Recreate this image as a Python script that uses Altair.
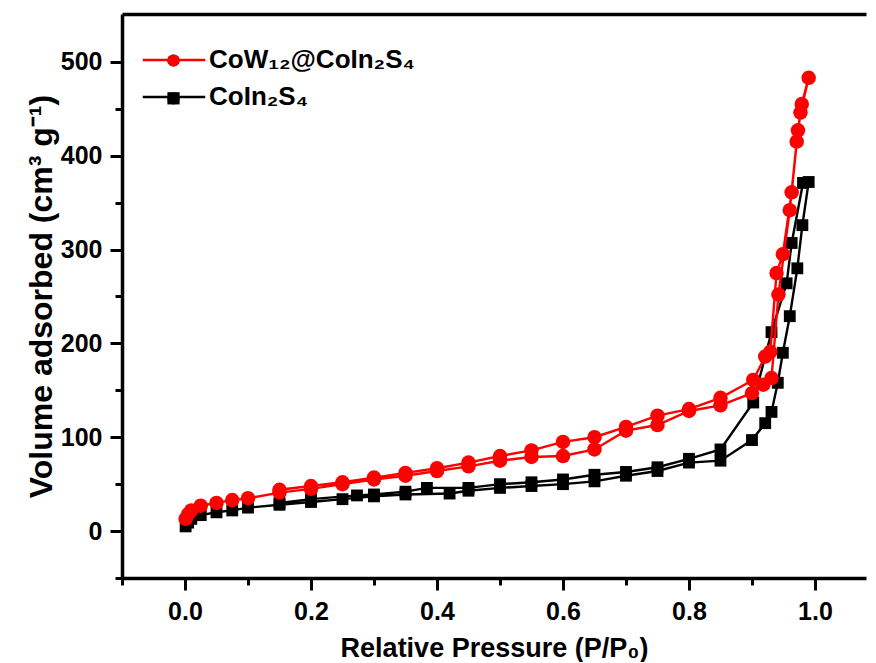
import altair as alt
import pandas as pd

RED = "CoW₁₂@CoIn₂S₄"
BLACK = "CoIn₂S₄"

# CoW12@CoIn2S4 : adsorption branch then desorption branch
red_ads_p = [0.001, 0.005, 0.01, 0.025, 0.05, 0.075, 0.1, 0.15, 0.2, 0.25, 0.3, 0.35, 0.4, 0.45,
             0.5, 0.55, 0.6, 0.65, 0.7, 0.75, 0.8, 0.85, 0.9, 0.918, 0.931, 0.942, 0.96, 0.971,
             0.977, 0.99]
red_ads_v = [13, 18, 22, 27, 30, 33, 35, 41, 45, 50, 55, 59, 64, 69,
             75, 79, 80, 87, 107, 113, 128, 134, 147, 156, 163, 252, 342, 415,
             446, 483]
red_des_p = [0.979, 0.973, 0.963, 0.949, 0.939, 0.929, 0.921, 0.902, 0.85, 0.8, 0.75, 0.7,
             0.65, 0.6, 0.55, 0.5, 0.45, 0.4, 0.35, 0.3, 0.25, 0.2, 0.15]
red_des_v = [455, 427, 361, 295, 275, 191, 186, 161, 142, 130, 123, 111,
             100, 95, 86, 80, 73, 67, 62, 57, 52, 48, 44]

# CoIn2S4 : adsorption branch then desorption branch
black_ads_p = [0.001, 0.005, 0.01, 0.025, 0.05, 0.075, 0.1, 0.15, 0.2, 0.25, 0.3, 0.35, 0.42,
               0.45, 0.5, 0.55, 0.6, 0.65, 0.7, 0.75, 0.8, 0.85, 0.9, 0.921, 0.931, 0.941,
               0.949, 0.96, 0.972, 0.98, 0.99]
black_ads_v = [5, 9, 13, 17, 20, 22, 25, 28, 31, 34, 37, 39, 40,
               43, 46, 48, 50, 53, 59, 64, 73, 75, 97, 115, 127, 158,
               190, 229, 280, 326, 372]
black_des_p = [0.981, 0.963, 0.955, 0.931, 0.902, 0.85, 0.8, 0.75, 0.7, 0.65, 0.6, 0.55, 0.5,
               0.45, 0.384, 0.35, 0.3, 0.273, 0.2, 0.15]
black_des_v = [371, 307, 264, 212, 137, 87, 77, 68, 63, 60, 55, 52, 50,
               46, 46, 42, 39, 38, 34, 30]

x_major_ticks = [0.0, 0.2, 0.4, 0.6, 0.8, 1.0]
x_minor_ticks = [-0.1, 0.1, 0.3, 0.5, 0.7, 0.9]
y_major_ticks = [0, 100, 200, 300, 400, 500]
y_minor_ticks = [-50, 50, 150, 250, 350, 450]


def build(name, ads_p, ads_v, des_p, des_v):
    ps = ads_p + des_p
    vs = ads_v + des_v
    return pd.DataFrame({"P": ps, "V": vs, "series": name, "series_line": name,
                         "step": list(range(len(ps)))})


df = pd.concat([build(BLACK, black_ads_p, black_ads_v, black_des_p, black_des_v),
                build(RED, red_ads_p, red_ads_v, red_des_p, red_des_v)], ignore_index=True)

FONT = "Liberation Sans"
xscale = alt.Scale(domain=[-0.1, 1.081], nice=False, zero=False)
yscale = alt.Scale(domain=[-50, 551], nice=False, zero=False)

x_major = alt.Axis(orient="bottom", values=x_major_ticks, format=".1f",
                   title="Relative Pressure (P/P₀)", tickSize=12, tickWidth=3,
                   domainWidth=3.5, labelPadding=9, titlePadding=11,
                   labelFontSize=25, titleFontSize=27)
x_minor = alt.Axis(orient="bottom", values=x_minor_ticks, labels=False, title=None,
                   tickSize=7, tickWidth=3, domain=False)
x_top = alt.Axis(orient="top", labels=False, ticks=False, title=None, domainWidth=3.5)
y_major = alt.Axis(orient="left", values=y_major_ticks, format="d",
                   title="Volume adsorbed (cm³ g⁻¹)", tickSize=12, tickWidth=3,
                   domainWidth=3.5, labelPadding=8, titlePadding=2,
                   labelFontSize=25, titleFontSize=32)
y_minor = alt.Axis(orient="left", values=y_minor_ticks, labels=False, title=None,
                   tickSize=7, tickWidth=3, domain=False)

# long horizontal legend line (path in unit symbol coordinates)
LINE_PATH = "M-5.1,0H5.1"

stroke_enc = alt.Stroke("series_line:N", sort=[RED, BLACK],
                        scale=alt.Scale(range=["#ff0000", "#000000"]),
                        legend=alt.Legend(orient="none", legendX=39, legendY=33, rowPadding=11,
                                          title=None, symbolType=LINE_PATH, symbolSize=150,
                                          symbolStrokeWidth=2.5, labelFontSize=26,
                                          labelLimit=500, labelFont=FONT,
                                          labelFontWeight="bold", labelColor="black",
                                          labelOffset=22, padding=0))
marker_legend = alt.Legend(orient="none", legendX=45, legendY=40, rowPadding=24.8,
                           title=None, symbolSize=150, symbolStrokeWidth=0,
                           labelExpr="''", labelFontSize=1, labelOffset=0, padding=0)
fill_enc = alt.Fill("series:N", sort=[RED, BLACK],
                    scale=alt.Scale(range=["#ff0000", "#000000"]), legend=marker_legend)
shape_enc = alt.Shape("series:N", sort=[RED, BLACK],
                      scale=alt.Scale(range=["circle", "square"]), legend=marker_legend)

base = alt.Chart(df)

black_line = base.transform_filter(alt.datum.series == BLACK).mark_line(strokeWidth=2.4).encode(
    x=alt.X("P:Q", scale=xscale, axis=x_major),
    y=alt.Y("V:Q", scale=yscale, axis=y_major),
    stroke=stroke_enc,
    order=alt.Order("step:Q"),
)
black_pts = base.transform_filter(alt.datum.series == BLACK).mark_point(
    filled=True, size=140, opacity=1).encode(
    x=alt.X("P:Q", scale=xscale, axis=x_minor),
    y=alt.Y("V:Q", scale=yscale, axis=y_minor),
    fill=fill_enc,
    shape=shape_enc,
)
red_line = base.transform_filter(alt.datum.series == RED).mark_line(strokeWidth=2.4).encode(
    x=alt.X("P:Q", scale=xscale, axis=x_top),
    y=alt.Y("V:Q", scale=yscale, axis=None),
    stroke=stroke_enc,
    order=alt.Order("step:Q"),
)
red_pts = base.transform_filter(alt.datum.series == RED).mark_point(
    filled=True, size=210, opacity=1).encode(
    x=alt.X("P:Q", scale=xscale, axis=None),
    y=alt.Y("V:Q", scale=yscale, axis=None),
    fill=fill_enc,
    shape=shape_enc,
)

chart = alt.layer(black_line, black_pts, red_line, red_pts).resolve_axis(
    x="independent", y="independent"
).properties(
    width=744, height=564,
    autosize=alt.AutoSizeParams(type="none"),
    padding={"left": 114, "top": 6, "right": 2, "bottom": 84},
).configure_view(stroke=None).configure_axis(
    labelFont=FONT, titleFont=FONT, labelFontWeight="bold", titleFontWeight="bold",
    labelColor="black", titleColor="black", domainColor="black", tickColor="black",
    grid=False,
)

chart.save("out.html", embed_options={"renderer": "svg", "actions": False})
